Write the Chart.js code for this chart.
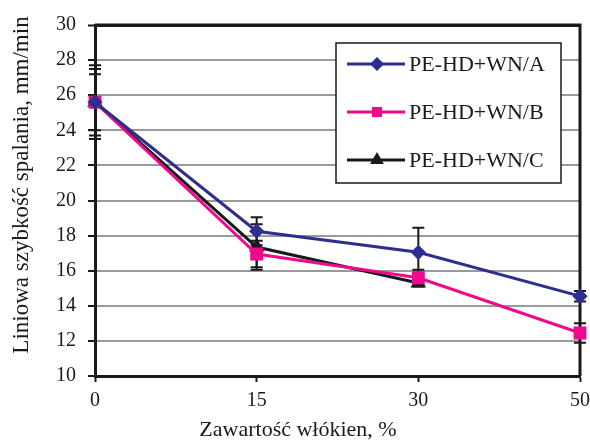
<!DOCTYPE html>
<html>
<head>
<meta charset="utf-8">
<script src="https://cdn.jsdelivr.net/npm/chart.js@4/dist/chart.umd.min.js"></script>
<style>
  html, body { margin: 0; padding: 0; background: #fff; }
  #wrap { width: 590px; height: 444px; }
</style>
</head>
<body>
<div id="wrap"><canvas id="chart"></canvas></div>
<script>
// Data
const categories = ['0', '15', '30', '50'];
const seriesA = [25.6, 18.25, 17.05, 14.55];
const seriesB = [25.6, 16.95, 15.6, 12.45];
const seriesC = [25.6, 17.35, 15.3, null];
const errA = [2.1, 0.8, 1.4, 0.3];
const errB = [1.9, 0.75, 0.45, 0.55];
const errC = [1.6, 1.3, 0.2, null];
const seriesNames = ['PE-HD+WN/A', 'PE-HD+WN/B', 'PE-HD+WN/C'];
const xTitle = 'Zawartość włókien, %';
const yTitle = 'Liniowa szybkość spalania, mm/min';

const serif = '"Liberation Serif", "Times New Roman", serif';
const colA = '#2e2e8f';
const colB = '#ee0a8c';
const colC = '#1a1a1a';

// error bars, frame, legend and axis titles
const extras = {
    id: 'extras',
    beforeDatasetsDraw(chart) {
        const { ctx, chartArea: a } = chart;
        ctx.save();
        ctx.strokeStyle = '#1a1a1a';
        ctx.lineWidth = 3;
        ctx.beginPath();
        ctx.moveTo(a.left, a.top);
        ctx.lineTo(a.right, a.top);
        ctx.lineTo(a.right, a.bottom);
        ctx.stroke();

        const y = chart.scales.y, x = chart.scales.x;
        const errs = [errA, errB, errC];
        ctx.lineWidth = 2;
        chart.data.datasets.forEach((ds, i) => {
            ds.data.forEach((v, j) => {
                const e = errs[i][j];
                if (v == null || e == null) return;
                const px = x.getPixelForValue(j);
                const top = y.getPixelForValue(v + e);
                const bot = y.getPixelForValue(v - e);
                ctx.beginPath();
                ctx.moveTo(px, top); ctx.lineTo(px, bot);
                ctx.moveTo(px - 6, top); ctx.lineTo(px + 6, top);
                ctx.moveTo(px - 6, bot); ctx.lineTo(px + 6, bot);
                ctx.stroke();
            });
        });
        ctx.restore();
    },
    afterDraw(chart) {
        const { ctx } = chart;
        ctx.save();
        // axis titles (placed off-centre like the original)
        ctx.fillStyle = '#1a1a1a';
        ctx.font = '22px ' + serif;
        ctx.textAlign = 'center';
        ctx.textBaseline = 'middle';
        ctx.fillText(xTitle, 298, 430);
        ctx.save();
        ctx.translate(22, 185);
        ctx.rotate(-Math.PI / 2);
        ctx.font = '23px ' + serif;
        ctx.fillText(yTitle, 0, 0);
        ctx.restore();

        // boxed legend
        const bx = 336, by = 43, bw = 225, bh = 140;
        ctx.fillStyle = '#fff';
        ctx.fillRect(bx, by, bw, bh);
        ctx.strokeStyle = '#1a1a1a';
        ctx.lineWidth = 1.5;
        ctx.strokeRect(bx, by, bw, bh);
        ctx.textAlign = 'left';
        chart.data.datasets.forEach((ds, i) => {
            const ly = by + 21 + i * 48;
            ctx.strokeStyle = ds.borderColor;
            ctx.lineWidth = 3;
            ctx.beginPath();
            ctx.moveTo(bx + 11, ly); ctx.lineTo(bx + 69, ly);
            ctx.stroke();
            ctx.fillStyle = ds.pointBackgroundColor;
            Chart.helpers.drawPoint(ctx, {
                pointStyle: ds.pointStyle, radius: 5,
                borderWidth: 1, rotation: 0
            }, bx + 41, ly);
            ctx.fill();
            ctx.fillStyle = '#1a1a1a';
            ctx.font = '22px ' + serif;
            ctx.fillText(seriesNames[i], bx + 73, ly + 1);
        });
        ctx.restore();
    }
};

function makeSet(label, data, color, style, r) {
    return {
        label: label,
        data: data,
        borderColor: color,
        backgroundColor: color,
        pointBackgroundColor: color,
        pointBorderColor: color,
        pointStyle: style,
        pointRadius: r,
        borderWidth: 3,
        tension: 0,
        spanGaps: false
    };
}

new Chart(document.getElementById('chart'), {
    type: 'line',
    data: {
        labels: categories,
        datasets: [
            makeSet(seriesNames[0], seriesA, colA, 'rectRot', 5.5),
            makeSet(seriesNames[1], seriesB, colB, 'rect', 7),
            makeSet(seriesNames[2], seriesC, colC, 'triangle', 6)
        ]
    },
    options: {
        responsive: true,
        maintainAspectRatio: false,
        animation: false,
        layout: { padding: { top: 25, right: 10, left: 0, bottom: 0 } },
        plugins: { legend: { display: false }, tooltip: { enabled: false } },
        scales: {
            x: {
                offset: false,
                afterFit: s => { s.height = 68; s.paddingRight = 0; s.paddingLeft = 0; },
                grid: {
                    drawOnChartArea: false,
                    tickLength: 6,
                    tickColor: '#1a1a1a',
                    tickWidth: 2
                },
                border: { color: '#1a1a1a', width: 3 },
                ticks: { color: '#1a1a1a', font: { family: serif, size: 20 }, padding: 7 }
            },
            y: {
                min: 10,
                max: 30,
                afterFit: s => { s.width = 95; },
                ticks: { stepSize: 2, color: '#1a1a1a', font: { family: serif, size: 20 }, padding: 12 },
                grid: {
                    color: c => c.tick.value === 10 ? 'rgba(0,0,0,0)' : (c.tick.value === 30 ? '#1a1a1a' : '#9a9a9a'),
                    lineWidth: c => c.tick.value === 30 ? 3 : 2,
                    tickLength: 7,
                    tickColor: '#1a1a1a',
                    tickWidth: 2
                },
                border: { color: '#1a1a1a', width: 3 }
            }
        }
    },
    plugins: [extras]
});
</script>
</body>
</html>
